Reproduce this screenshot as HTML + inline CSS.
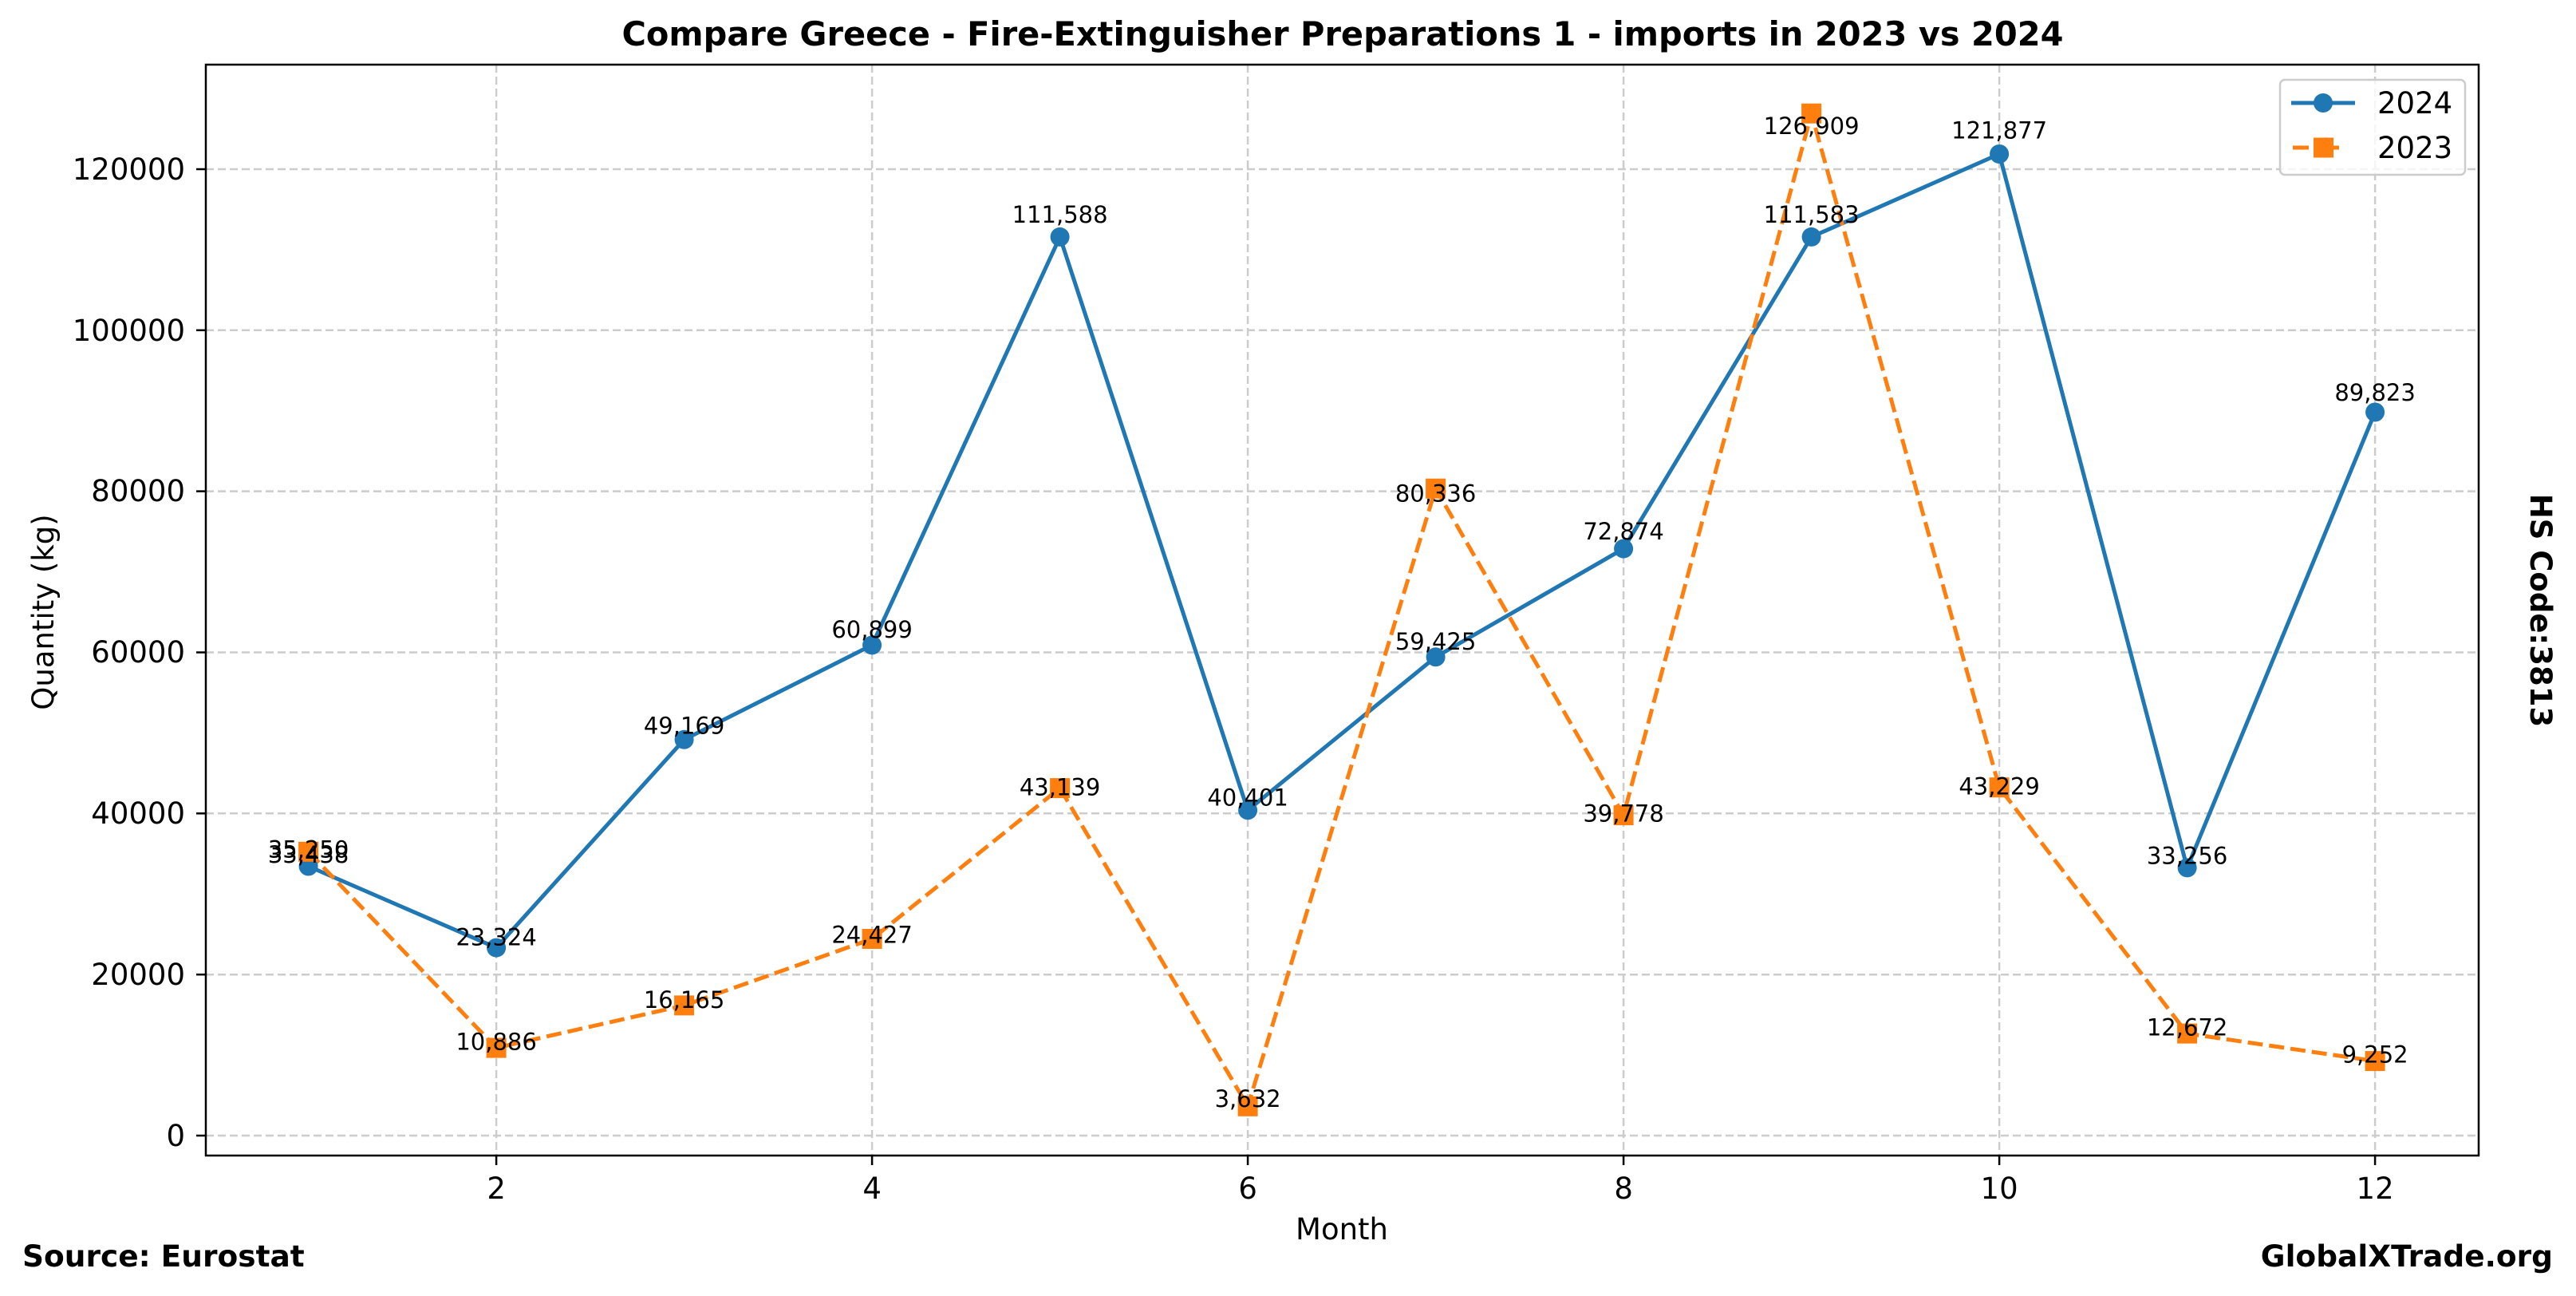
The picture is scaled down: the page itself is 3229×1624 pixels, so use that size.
<!DOCTYPE html>
<html><head><meta charset="utf-8"><style>
html,body{margin:0;padding:0;background:#fff;}
svg{display:block;}
text{font-family:"DejaVu Sans","Liberation Sans",sans-serif;}
</style></head><body>
<svg width="3229" height="1624" viewBox="0 0 3229 1624" xmlns="http://www.w3.org/2000/svg">
<rect width="3229" height="1624" fill="#fff"/>
<g stroke="#cccccc" stroke-width="2.5" stroke-dasharray="10,5" fill="none">
<line x1="622.1" y1="81" x2="622.1" y2="1448"/>
<line x1="1093.1" y1="81" x2="1093.1" y2="1448"/>
<line x1="1564.1" y1="81" x2="1564.1" y2="1448"/>
<line x1="2035.1" y1="81" x2="2035.1" y2="1448"/>
<line x1="2506.1" y1="81" x2="2506.1" y2="1448"/>
<line x1="2977.1" y1="81" x2="2977.1" y2="1448"/>
<line x1="258" y1="1423" x2="3107" y2="1423"/>
<line x1="258" y1="1221.2" x2="3107" y2="1221.2"/>
<line x1="258" y1="1019.3" x2="3107" y2="1019.3"/>
<line x1="258" y1="817.5" x2="3107" y2="817.5"/>
<line x1="258" y1="615.6" x2="3107" y2="615.6"/>
<line x1="258" y1="413.8" x2="3107" y2="413.8"/>
<line x1="258" y1="212" x2="3107" y2="212"/>
</g>
<g stroke="#000" stroke-width="2.5">
<line x1="246" y1="1423" x2="258" y2="1423"/>
<line x1="246" y1="1221.2" x2="258" y2="1221.2"/>
<line x1="246" y1="1019.3" x2="258" y2="1019.3"/>
<line x1="246" y1="817.5" x2="258" y2="817.5"/>
<line x1="246" y1="615.6" x2="258" y2="615.6"/>
<line x1="246" y1="413.8" x2="258" y2="413.8"/>
<line x1="246" y1="212" x2="258" y2="212"/>
<line x1="622.1" y1="1448" x2="622.1" y2="1460"/>
<line x1="1093.1" y1="1448" x2="1093.1" y2="1460"/>
<line x1="1564.1" y1="1448" x2="1564.1" y2="1460"/>
<line x1="2035.1" y1="1448" x2="2035.1" y2="1460"/>
<line x1="2506.1" y1="1448" x2="2506.1" y2="1460"/>
<line x1="2977.1" y1="1448" x2="2977.1" y2="1460"/>
</g>
<g font-size="37" text-anchor="end" fill="#000">
<text x="232" y="1436">0</text>
<text x="232" y="1234">20000</text>
<text x="232" y="1032">40000</text>
<text x="232" y="830">60000</text>
<text x="232" y="628">80000</text>
<text x="232" y="427">100000</text>
<text x="232" y="225">120000</text>
</g>
<g font-size="37" text-anchor="middle" fill="#000">
<text x="622.1" y="1502">2</text>
<text x="1093.1" y="1502">4</text>
<text x="1564.1" y="1502">6</text>
<text x="2035.1" y="1502">8</text>
<text x="2506.1" y="1502">10</text>
<text x="2977.1" y="1502">12</text>
<text x="1682" y="1553">Month</text>
<text transform="translate(67,767) rotate(-90)">Quantity (kg)</text>
</g>
<polyline fill="none" stroke="#1f77b4" stroke-width="5" stroke-linejoin="round" points="386.6,1085.5 622.1,1187.6 857.6,926.8 1093.1,808.4 1328.6,296.9 1564.1,1015.3 1799.6,823.3 2035.1,687.6 2270.6,296.9 2506.1,193 2741.6,1087.4 2977.1,516.5"/>
<polyline fill="none" stroke="#ff7f0e" stroke-width="5" stroke-dasharray="19,8" points="386.6,1067.3 622.1,1313.1 857.6,1259.9 1093.1,1176.5 1328.6,987.6 1564.1,1386.3 1799.6,612.2 2035.1,1021.6 2270.6,142.2 2506.1,986.7 2741.6,1295.1 2977.1,1329.6"/>
<g fill="#1f77b4">
<circle cx="386.6" cy="1085.5" r="12"/><circle cx="622.1" cy="1187.6" r="12"/><circle cx="857.6" cy="926.8" r="12"/><circle cx="1093.1" cy="808.4" r="12"/><circle cx="1328.6" cy="296.9" r="12"/><circle cx="1564.1" cy="1015.3" r="12"/><circle cx="1799.6" cy="823.3" r="12"/><circle cx="2035.1" cy="687.6" r="12"/><circle cx="2270.6" cy="296.9" r="12"/><circle cx="2506.1" cy="193" r="12"/><circle cx="2741.6" cy="1087.4" r="12"/><circle cx="2977.1" cy="516.5" r="12"/>
</g>
<g fill="#ff7f0e">
<rect x="374.1" y="1054.8" width="25" height="25"/><rect x="609.6" y="1300.6" width="25" height="25"/><rect x="845.1" y="1247.4" width="25" height="25"/><rect x="1080.6" y="1164" width="25" height="25"/><rect x="1316.1" y="975.1" width="25" height="25"/><rect x="1551.6" y="1373.8" width="25" height="25"/><rect x="1787.1" y="599.7" width="25" height="25"/><rect x="2022.6" y="1009.1" width="25" height="25"/><rect x="2258.1" y="129.7" width="25" height="25"/><rect x="2493.6" y="974.2" width="25" height="25"/><rect x="2729.1" y="1282.6" width="25" height="25"/><rect x="2964.6" y="1317.1" width="25" height="25"/>
</g>
<g font-size="29" text-anchor="middle" fill="#000">
<text x="386.6" y="1080.8">33,438</text>
<text x="622.1" y="1184.6">23,324</text>
<text x="857.6" y="919.4">49,169</text>
<text x="1093.1" y="799">60,899</text>
<text x="1328.6" y="278.9">111,588</text>
<text x="1564.1" y="1009.4">40,401</text>
<text x="1799.6" y="814.2">59,425</text>
<text x="2035.1" y="676.2">72,874</text>
<text x="2270.6" y="278.9">111,583</text>
<text x="2506.1" y="173.3">121,877</text>
<text x="2741.6" y="1082.7">33,256</text>
<text x="2977.1" y="502.2">89,823</text>
<text x="386.6" y="1074.4">35,250</text>
<text x="622.1" y="1315.3">10,886</text>
<text x="857.6" y="1263.2">16,165</text>
<text x="1093.1" y="1181.4">24,427</text>
<text x="1328.6" y="996.3">43,139</text>
<text x="1564.1" y="1387">3,632</text>
<text x="1799.6" y="628.4">80,336</text>
<text x="2035.1" y="1029.6">39,778</text>
<text x="2270.6" y="167.8">126,909</text>
<text x="2506.1" y="995.4">43,229</text>
<text x="2741.6" y="1297.7">12,672</text>
<text x="2977.1" y="1331.5">9,252</text>
</g>
<rect x="258" y="81" width="2849" height="1367" fill="none" stroke="#000" stroke-width="2.5"/>
<rect x="2858" y="100" width="232" height="119" rx="6" fill="#fff" fill-opacity="0.8" stroke="#cccccc" stroke-width="2.5"/>
<line x1="2872" y1="129" x2="2952" y2="129" stroke="#1f77b4" stroke-width="5"/>
<circle cx="2912" cy="129" r="12" fill="#1f77b4"/>
<line x1="2874" y1="185" x2="2950" y2="185" stroke="#ff7f0e" stroke-width="5" stroke-dasharray="20,18"/>
<rect x="2900" y="172.5" width="25" height="25" fill="#ff7f0e"/>
<g font-size="37" fill="#000">
<text x="2980" y="142">2024</text>
<text x="2980" y="198">2023</text>
</g>
<text x="1683" y="57" font-size="41.5" font-weight="bold" text-anchor="middle">Compare Greece - Fire-Extinguisher Preparations 1 - imports in 2023 vs 2024</text>
<text x="28" y="1587" font-size="37.5" font-weight="bold">Source: Eurostat</text>
<text x="3200" y="1587" font-size="37.5" font-weight="bold" text-anchor="end">GlobalXTrade.org</text>
<text transform="translate(3172,765) rotate(90)" font-size="37" font-weight="bold" text-anchor="middle">HS Code:3813</text>
</svg>
</body></html>
